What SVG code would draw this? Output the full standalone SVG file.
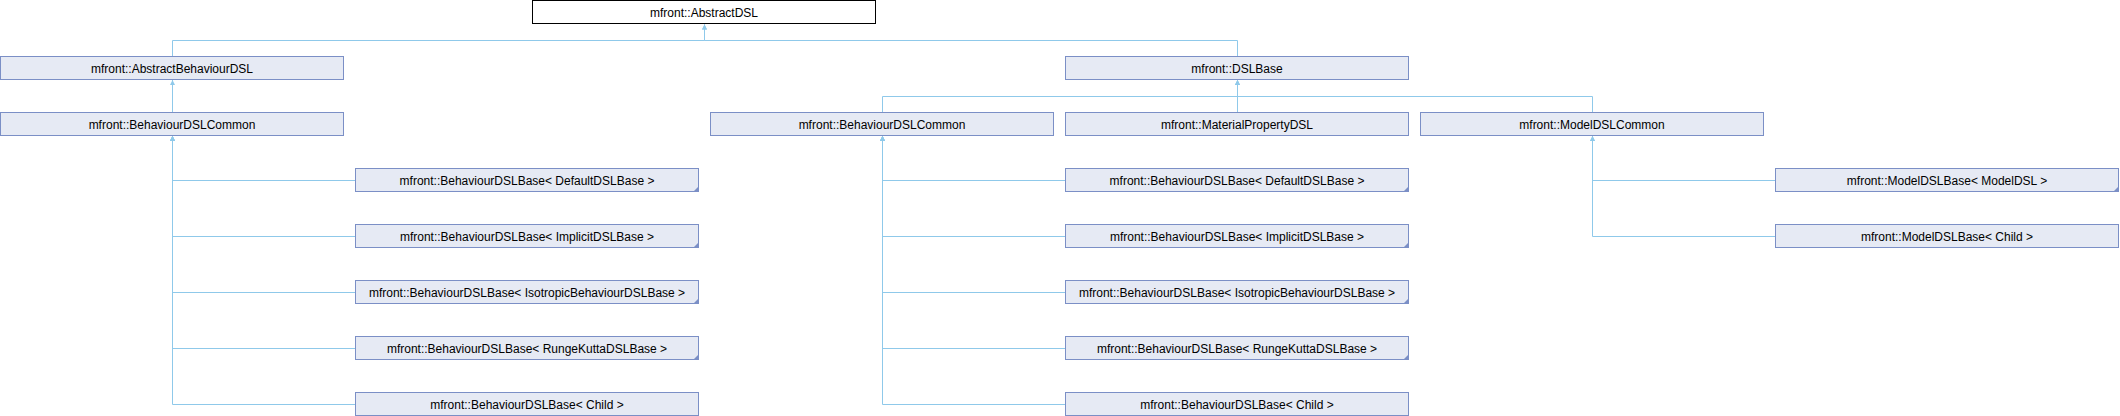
<svg xmlns="http://www.w3.org/2000/svg" width="2120" height="416" viewBox="0 0 2120 416">
<style>
.n rect{fill:#E6EAF4;stroke:#7B8FC6;stroke-width:1}
.root rect{fill:#FFFFFF;stroke:#000000;stroke-width:1}
text{font-family:"Liberation Sans",Arial,sans-serif;font-size:12px;fill:#000;text-anchor:middle}
.tri{fill:#7B8FC6;stroke:none}
.e{fill:none;stroke:#8FC9EA;stroke-width:1;marker-end:url(#arr)}
</style>
<defs>
<marker id="arr" markerUnits="userSpaceOnUse" markerWidth="6" markerHeight="6" refX="5" refY="2.5" orient="auto" viewBox="0 0 6 5">
<path d="M0,0 L5,2.5 L0,5 z" fill="#8FC9EA"/>
</marker>
</defs>
<rect x="0" y="0" width="2120" height="416" fill="#FFFFFF"/>
<g id="connectors">
<path class="e" d="M172.5,56 V40.5 H704.5 V24.5"/>
<path class="e" d="M1237.5,56 V40.5 H704.5 V24.5"/>
<path class="e" d="M172.5,112 V80"/>
<path class="e" d="M882.5,112 V96.5 H1237.5 V80"/>
<path class="e" d="M1237.5,112 V80"/>
<path class="e" d="M1592.5,112 V96.5 H1237.5 V80"/>
<path class="e" d="M355,180.5 H172.5 V136"/>
<path class="e" d="M355,236.5 H172.5 V136"/>
<path class="e" d="M355,292.5 H172.5 V136"/>
<path class="e" d="M355,348.5 H172.5 V136"/>
<path class="e" d="M355,404.5 H172.5 V136"/>
<path class="e" d="M1065,180.5 H882.5 V136"/>
<path class="e" d="M1065,236.5 H882.5 V136"/>
<path class="e" d="M1065,292.5 H882.5 V136"/>
<path class="e" d="M1065,348.5 H882.5 V136"/>
<path class="e" d="M1065,404.5 H882.5 V136"/>
<path class="e" d="M1775,180.5 H1592.5 V136"/>
<path class="e" d="M1775,236.5 H1592.5 V136"/>
</g>
<g id="AbstractDSL" class="root"><rect x="532.5" y="0.5" width="343" height="23"/><text x="704" y="16.5">mfront::AbstractDSL</text></g>
<g id="AbstractBehaviourDSL" class="n"><rect x="0.5" y="56.5" width="343" height="23"/><text x="172" y="72.5">mfront::AbstractBehaviourDSL</text></g>
<g id="DSLBase" class="n"><rect x="1065.5" y="56.5" width="343" height="23"/><text x="1237" y="72.5">mfront::DSLBase</text></g>
<g id="BehaviourDSLCommon1" class="n"><rect x="0.5" y="112.5" width="343" height="23"/><text x="172" y="128.5">mfront::BehaviourDSLCommon</text></g>
<g id="BehaviourDSLCommon2" class="n"><rect x="710.5" y="112.5" width="343" height="23"/><text x="882" y="128.5">mfront::BehaviourDSLCommon</text></g>
<g id="MaterialPropertyDSL" class="n"><rect x="1065.5" y="112.5" width="343" height="23"/><text x="1237" y="128.5">mfront::MaterialPropertyDSL</text></g>
<g id="ModelDSLCommon" class="n"><rect x="1420.5" y="112.5" width="343" height="23"/><text x="1592" y="128.5">mfront::ModelDSLCommon</text></g>
<g id="BDB_Default1" class="n"><rect x="355.5" y="168.5" width="343" height="23"/><path class="tri" d="M699,186 V192 H693 z"/><text x="527" y="184.5">mfront::BehaviourDSLBase&lt; DefaultDSLBase &gt;</text></g>
<g id="BDB_Implicit1" class="n"><rect x="355.5" y="224.5" width="343" height="23"/><path class="tri" d="M699,242 V248 H693 z"/><text x="527" y="240.5">mfront::BehaviourDSLBase&lt; ImplicitDSLBase &gt;</text></g>
<g id="BDB_Isotropic1" class="n"><rect x="355.5" y="280.5" width="343" height="23"/><path class="tri" d="M699,298 V304 H693 z"/><text x="527" y="296.5">mfront::BehaviourDSLBase&lt; IsotropicBehaviourDSLBase &gt;</text></g>
<g id="BDB_RungeKutta1" class="n"><rect x="355.5" y="336.5" width="343" height="23"/><path class="tri" d="M699,354 V360 H693 z"/><text x="527" y="352.5">mfront::BehaviourDSLBase&lt; RungeKuttaDSLBase &gt;</text></g>
<g id="BDB_Child1" class="n"><rect x="355.5" y="392.5" width="343" height="23"/><text x="527" y="408.5">mfront::BehaviourDSLBase&lt; Child &gt;</text></g>
<g id="BDB_Default2" class="n"><rect x="1065.5" y="168.5" width="343" height="23"/><path class="tri" d="M1409,186 V192 H1403 z"/><text x="1237" y="184.5">mfront::BehaviourDSLBase&lt; DefaultDSLBase &gt;</text></g>
<g id="BDB_Implicit2" class="n"><rect x="1065.5" y="224.5" width="343" height="23"/><path class="tri" d="M1409,242 V248 H1403 z"/><text x="1237" y="240.5">mfront::BehaviourDSLBase&lt; ImplicitDSLBase &gt;</text></g>
<g id="BDB_Isotropic2" class="n"><rect x="1065.5" y="280.5" width="343" height="23"/><path class="tri" d="M1409,298 V304 H1403 z"/><text x="1237" y="296.5">mfront::BehaviourDSLBase&lt; IsotropicBehaviourDSLBase &gt;</text></g>
<g id="BDB_RungeKutta2" class="n"><rect x="1065.5" y="336.5" width="343" height="23"/><path class="tri" d="M1409,354 V360 H1403 z"/><text x="1237" y="352.5">mfront::BehaviourDSLBase&lt; RungeKuttaDSLBase &gt;</text></g>
<g id="BDB_Child2" class="n"><rect x="1065.5" y="392.5" width="343" height="23"/><text x="1237" y="408.5">mfront::BehaviourDSLBase&lt; Child &gt;</text></g>
<g id="MDB_ModelDSL" class="n"><rect x="1775.5" y="168.5" width="343" height="23"/><path class="tri" d="M2119,186 V192 H2113 z"/><text x="1947" y="184.5">mfront::ModelDSLBase&lt; ModelDSL &gt;</text></g>
<g id="MDB_Child" class="n"><rect x="1775.5" y="224.5" width="343" height="23"/><text x="1947" y="240.5">mfront::ModelDSLBase&lt; Child &gt;</text></g>
</svg>
